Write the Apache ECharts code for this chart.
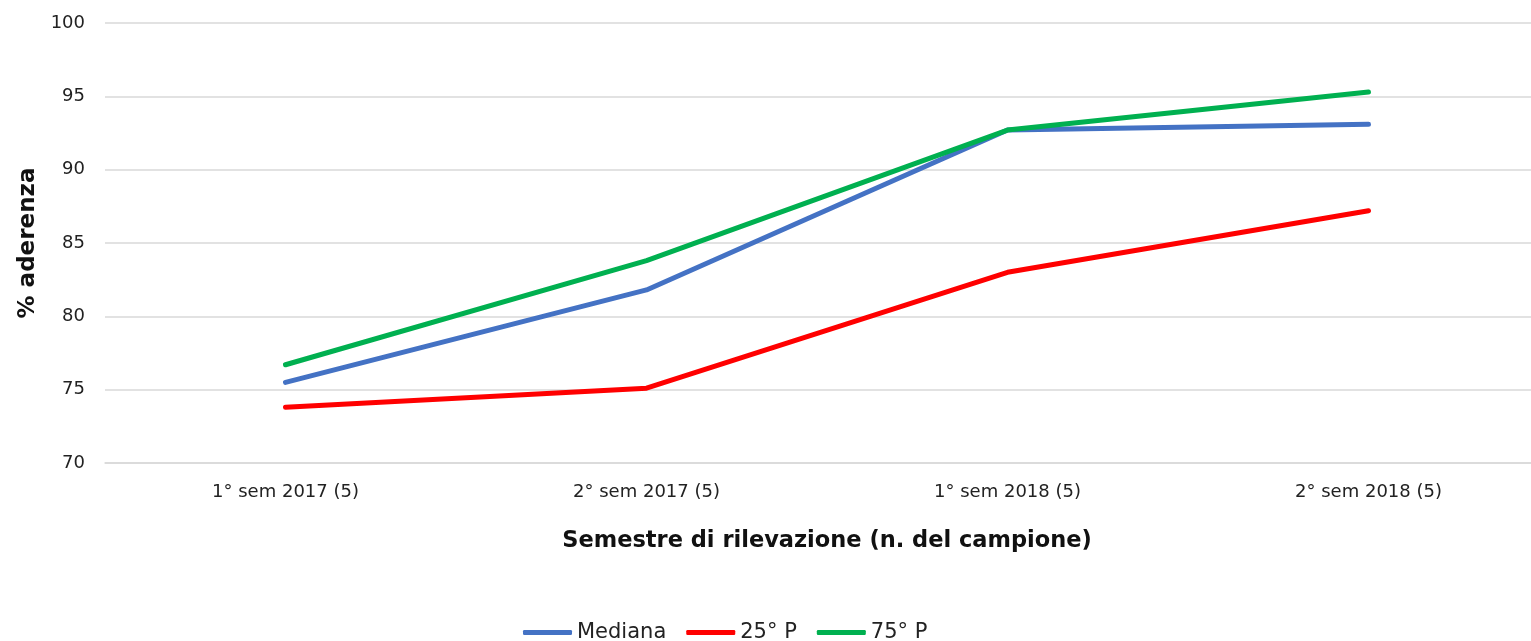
<!DOCTYPE html>
<html>
<head>
<meta charset="utf-8">
<script src="https://cdn.jsdelivr.net/npm/echarts@6/dist/echarts.min.js"></script>
<style>
  html, body { margin: 0; padding: 0; background: #fff; }
  #chart { width: 1531px; height: 641px; }
</style>
</head>
<body>
<div id="chart"></div>
<script>
const categories = ["1° sem 2017 (5)", "2° sem 2017 (5)", "1° sem 2018 (5)", "2° sem 2018 (5)"];
const mediana = [75.5, 81.8, 92.7, 93.1];
const p25 = [73.8, 75.1, 83.0, 87.2];
const p75 = [76.7, 83.8, 92.7, 95.3];

const FONT = "DejaVu Sans";

function lineSeries(name, data, color){
  return {
    name: name,
    type: "line",
    data: data,
    symbol: "none",
    lineStyle: { width: 5, color: color, cap: "round", join: "round" },
    itemStyle: { color: color }
  };
}

const chart = echarts.init(document.getElementById("chart"));
chart.setOption({
  animation: false,
  textStyle: { fontFamily: FONT },
  grid: { left: 105, top: 23, width: 1444, height: 440, outerBoundsMode: "none", containLabel: false },
  legend: {
    left: 518, top: 617,
    icon: "roundRect",
    itemWidth: 49, itemHeight: 5,
    itemGap: 20,
    textStyle: { fontFamily: FONT, fontSize: 21, color: "#222" },
    data: ["Mediana", "25° P", "75° P"]
  },
  xAxis: {
    type: "category",
    data: categories,
    boundaryGap: true,
    axisLine: { show: true, lineStyle: { color: "#d9d9d9", width: 1.5 } },
    axisTick: { show: false },
    axisLabel: { fontFamily: FONT, fontSize: 18, color: "#222", margin: 20 },
    name: "Semestre di rilevazione (n. del campione)",
    nameLocation: "middle",
    nameGap: 67,
    nameTextStyle: { fontFamily: FONT, fontSize: 22.5, fontWeight: "bold", color: "#111" }
  },
  yAxis: {
    type: "value",
    min: 70, max: 100, interval: 5,
    axisLine: { show: false },
    axisTick: { show: false },
    splitLine: { lineStyle: { color: "#d9d9d9", width: 1.5 } },
    axisLabel: { fontFamily: FONT, fontSize: 18, color: "#222", margin: 20 },
    name: "% aderenza",
    nameLocation: "middle",
    nameGap: 61,
    nameTextStyle: { fontFamily: FONT, fontSize: 23, fontWeight: "bold", color: "#111" }
  },
  series: [
    lineSeries("Mediana", mediana, "#4472C4"),
    lineSeries("25° P", p25, "#FF0000"),
    lineSeries("75° P", p75, "#00B050")
  ]
});
</script>
</body>
</html>
